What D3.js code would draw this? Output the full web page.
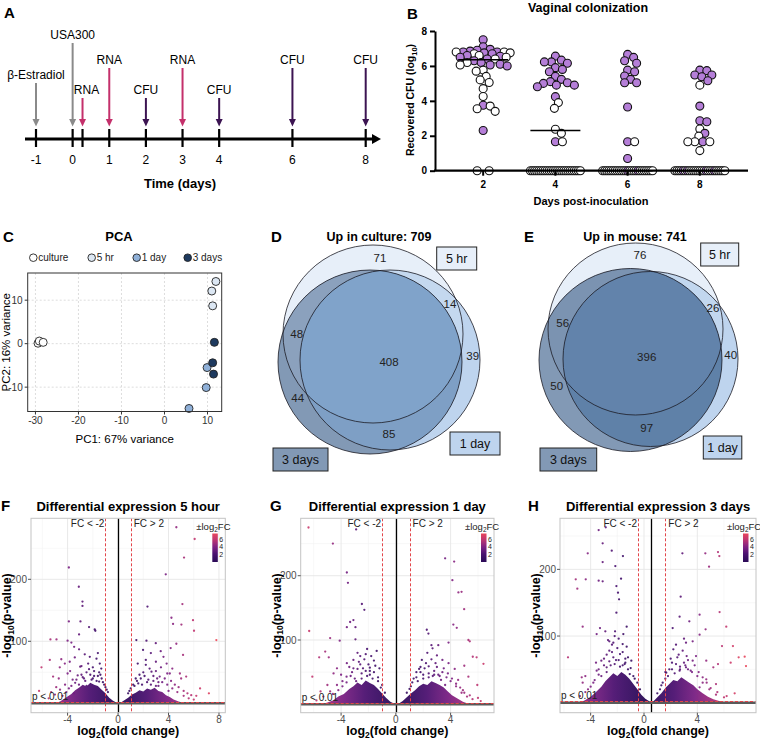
<!DOCTYPE html>
<html>
<head>
<meta charset="utf-8">
<script src="https://cdn.jsdelivr.net/npm/d3@7"></script>
<style>
  body { margin: 0; background: #fff; }
  svg { display: block; font-family: "Liberation Sans", Arial, sans-serif; }
</style>
</head>
<body>
<svg id="fig" width="760" height="740"></svg>
<script>
// ---------- A: timeline ----------
const timeTicks = [-1, 0, 1, 2, 3, 4, 6, 8];
const eventDays = [-1, 0, 0.27, 1, 2, 3, 4, 6, 8];
const eventLabels = ["β-Estradiol", "USA300", "RNA", "RNA", "CFU", "RNA", "CFU", "CFU", "CFU"];
const eventKinds = ["treat", "treat", "rna", "rna", "cfu", "rna", "cfu", "cfu", "cfu"];
const eventTiers = [1.5, 3, 1, 2, 1, 2, 1, 2, 2];

// ---------- B: vaginal colonization (log10 CFU) ----------
const colonDays = ["2", "4", "6", "8"];
const purple2 = [7.5, 7.1, 6.95, 6.9, 6.85, 6.8, 6.8, 6.75, 6.7, 6.6, 6.55, 6.5, 6.4, 6.3, 6.2, 6.1, 6.05, 6.0, 3.75, 2.3];
const white2 = [6.8, 6.8, 6.75, 6.7, 6.6, 6.5, 6.4, 6.2, 6.05, 5.76, 5.7, 5.4, 5.2, 5.05, 4.7, 4.25, 3.7, 3.55, 3.4];
const purple4 = [6.56, 6.33, 6.23, 6.23, 6.15, 5.9, 5.8, 5.67, 5.4, 5.23, 5.1, 5.04, 5.0, 4.9, 4.9, 4.81, 4.24, 1.66];
const white4 = [3.9, 3.57, 2.37, 2.14, 1.66];
const purple6 = [6.66, 6.49, 6.3, 6.15, 5.76, 5.67, 5.42, 5.23, 5.04, 5.04, 3.65, 1.66, 0.7];
const white6 = [1.66];
const purple8 = [5.76, 5.73, 5.48, 5.48, 5.38, 5.15, 3.7, 2.86, 2.8, 2.14, 1.66];
const white8 = [4.9, 2.39, 1.98, 1.66, 1.66, 1.66, 1.15];
// mice with no recovered CFU (0 = open circle, 1 = filled)
const zeroRow2 = [0, 0];
const zeroRow4 = [0, 0, 0, 0, 0, 0, 0, 0, 0, 0, 0, 0, 0, 0, 0, 0, 0, 0, 0, 0, 0, 0, 0, 0, 0];
const zeroRow6 = [0, 0, 0, 0, 0, 0, 0, 0, 0, 0, 0, 0, 1, 0, 0, 0, 0, 1, 0, 0, 0, 0, 0, 0, 0];
const zeroRow8 = [0, 0, 0, 0, 1, 0, 1, 0, 0, 0, 0, 0, 0, 0, 0, 1, 0, 0, 0, 1, 0, 0, 0, 0, 0];
const colonMedians = [6.35, 2.3, 0, 0];

// ---------- C: PCA ----------
const pcaGroups = ["culture", "5 hr", "1 day", "3 days"];
const pcaCulture = [[-29.4, 0.1], [-29.1, 0.6], [-28.2, 0.3]];
const pca5hr = [[11.95, 14.3], [11.0, 12.1], [11.2, 8.7]];
const pca1day = [[5.7, -14.9], [9.7, -10.1], [9.9, -5.5]];
const pca3day = [[11.6, 0.3], [11.2, -4.4], [11.4, -7.0]];

// ---------- D / E: Venn counts ----------
// region order: 5hr only, 5hr&1day, 1day only, 5hr&3days, all three, 1day&3days, 3days only
const vennCultureCounts = [71, 14, 39, 48, 408, 85, 44];
const vennMouseCounts = [76, 26, 40, 56, 396, 97, 50];
const vennCultureTotal = 709;
const vennMouseTotal = 741;

// ---------- F / G / H: volcano plots [log2FC, -log10 p] ----------
const volcano5h = [
  [-3.9,219],[-3.11,188],[-2.82,164],[-2.82,157],[-3.9,132],[-2.98,132],[-2.3,123],[-1.85,119],[-1.8,117],[-3.09,111],
  [-5.36,103],[-4.88,103],[-4.0,101],[-3.7,98],[-3.48,91],[-3.09,87],[-6.07,58],[-5.41,70],[-4.62,58],[-4.22,64],
  [-4.5,71],[-3.83,67],[-3.43,74],[-2.64,79],[-2.24,75],[-1.71,72],[-1.6,81],[-2.37,64],[-3.0,59],[-5.15,43],
  [-6.26,20],[-4.7,40],[-4.0,48],[-1.45,64],[-1.33,56],
  [-3.6,38],[-3.2,45],[-2.8,42],[-2.5,50],[-2.2,46],[-1.9,52],[-1.6,44],[-1.3,40],[-1.1,30],[-4.2,30],
  [-4.6,22],[-5,14],[-5.5,8],[-2.6,36],[-2.0,40],[-3.4,33],[-0.9,22],[-1.5,35],
  [-4.4,12],[-4.1,18],[-3.9,24],[-3.7,28],[-3.5,16],[-3.3,38],[-3.1,30],[-2.9,46],[-2.7,40],[-2.5,28],
  [-2.3,55],[-2.1,38],[-1.9,44],[-1.7,36],[-1.5,50],[-1.2,34],[-1.0,26],[-0.8,18],[-3.8,52],[-2.9,60],
  [-2.0,58],[-1.4,46],[-4.9,26],[-5.3,18],
  [4.62,284],[6.07,265],[5.23,235],[3.78,208],[2.33,156],[5.1,160],[4.23,138],[4.36,128],[5.02,127],[5.94,134],
  [6.02,117],[7.79,102],[1.45,102],[2.25,101],[2.99,97],[4.62,96],[3.38,84],[4.17,89],[5.15,78],[1.98,86],
  [2.6,81],[3.6,75],[3.85,64],[3.0,67],[2.2,70],[1.56,64],[4.3,56],[4.9,48],[5.4,43],[5.0,40],
  [4.1,48],[6.5,24],[7.2,16],[5.8,13],[3.3,43],[2.65,51],
  [1.2,30],[1.5,36],[1.8,40],[2.1,44],[2.4,38],[2.8,36],[3.1,40],[3.5,34],[3.9,30],[4.3,24],
  [4.7,18],[5.2,12],[5.6,8],[6.0,6],[0.9,20],[1.9,30],[2.6,30],[3.2,28],
  [0.8,16],[1.0,24],[1.3,28],[1.6,32],[1.7,46],[2.0,50],[2.3,34],[2.5,56],[2.8,44],[3.0,52],
  [3.2,34],[3.4,58],[3.7,40],[3.9,48],[4.2,36],[4.5,30],[4.8,26],[5.2,20],[5.5,16],[6.2,12],
  [2.2,62],[3.0,28],[4.0,20],[1.4,40]
];
const volcano1d = [
  [-6.38,275],[-2.9,272],[-4.6,250],[-3.58,205],[-3.5,189],[-2.48,156],[-2.3,147],[-6.33,114],[-3.34,128],[-3.1,131],
  [-3.58,120],[-4.8,103],[-4.1,99],[-2.95,101],[-2.95,120],[-5.16,82],[-4.9,73],[-5.6,73],[-4.3,56],[-4.55,48],
  [-3.58,64],[-3.1,69],[-2.6,75],[-2.1,86],[-1.8,75],[-1.4,83],[-2.4,56],[-1.9,57],[-3.6,43],[-6.1,43],
  [-3.2,50],[-2.8,55],[-2.5,48],[-2.2,52],[-1.9,46],[-1.6,50],[-1.3,42],[-1.0,30],[-3.9,36],[-4.3,30],
  [-4.8,20],[-5.3,12],[-5.8,6],[-3.0,40],[-2.0,62],[-2.6,62],[-1.2,56],
  [-4.6,16],[-4.2,22],[-3.9,28],[-3.6,34],[-3.3,44],[-3.1,56],[-2.9,36],[-2.7,66],[-2.5,40],[-2.3,70],
  [-2.1,44],[-1.9,52],[-1.7,40],[-1.5,60],[-1.3,36],[-1.1,26],[-0.8,18],[-3.4,58],[-2.2,78],[-4.0,46],
  [-5.0,30],[-5.5,20],[-1.6,68],[-2.8,80],
  [3.6,227],[4.26,222],[4.13,193],[4.57,174],[4.8,175],[4.99,148],[2.26,116],[2.38,110],[4.2,124],[4.45,119],
  [5.3,100],[5.4,98],[3.85,96],[3.1,92],[2.6,92],[2.68,87],[5.62,74],[5.9,73],[6.4,63],[5.95,30],
  [5.0,60],[4.3,55],[3.85,64],[3.4,69],[2.9,64],[2.4,59],[1.9,69],[1.7,55],[4.55,38],[5.3,43],[4.9,22],
  [1.2,34],[1.5,42],[1.8,50],[2.1,56],[2.4,48],[2.8,52],[3.1,46],[3.4,50],[3.7,42],[4.0,36],
  [4.4,28],[4.8,18],[5.2,12],[5.6,8],[6.2,5],[2.0,40],[2.7,44],[3.3,38],[1.0,24],
  [0.8,18],[1.1,28],[1.3,40],[1.6,36],[1.8,58],[2.0,46],[2.2,64],[2.4,42],[2.6,70],[2.8,46],
  [3.0,58],[3.2,44],[3.5,56],[3.8,48],[4.1,40],[4.4,32],[4.7,26],[5.0,18],[5.4,14],[6.0,10],
  [2.3,80],[3.0,76],[3.6,30],[1.5,50]
];
const volcano3d = [
  [-3.4,259],[-2.87,263],[-3.1,239],[-2.42,228],[-4.22,224],[-2.15,205],[-1.58,220],[-3.1,211],[-5.12,185],[-4.37,185],
  [-3.4,183],[-3.1,182],[-5.0,171],[-1.72,186],[-2.07,175],[-4.6,114],[-1.3,114],[-5.7,68],[-4.67,38],[-4.4,40],
  [-3.55,103],[-3.3,112],[-2.9,107],[-2.6,92],[-2.4,87],[-2.07,135],[-1.87,155],[-1.95,165],[-1.55,103],[-2.17,107],
  [-3.2,63],[-3.55,48],[-2.8,53],[-2.3,68],[-1.8,73],[-1.45,58],[-0.95,63],[-1.07,43],
  [-3.0,56],[-2.6,62],[-2.2,58],[-1.9,64],[-1.6,56],[-1.2,50],[-0.8,40],[-3.4,42],[-3.8,30],[-4.2,20],
  [-4.8,10],[-2.4,76],[-2.0,82],[-1.6,88],[-2.8,72],[-0.5,30],[-1.4,66],
  [-4.4,16],[-4.0,24],[-3.7,34],[-3.4,50],[-3.2,40],[-3.0,66],[-2.8,46],[-2.6,78],[-2.5,56],[-2.3,90],
  [-2.1,64],[-1.9,96],[-1.8,54],[-1.6,76],[-1.4,60],[-1.2,68],[-1.0,52],[-0.7,36],[-0.3,20],[-2.2,100],
  [-3.6,60],[-4.6,30],[-1.3,84],[-2.7,94],
  [2.88,224],[4.6,224],[5.55,226],[5.65,220],[4.88,204],[2.75,159],[2.67,129],[4.17,132],[5.67,136],[3.4,122],
  [4.62,110],[6.17,114],[5.85,85],[6.67,85],[7.55,69],[7.65,55],[7.1,68],[6.5,60],[5.2,53],[5.55,58],
  [4.67,63],[4.17,102],[3.65,92],[3.15,90],[2.4,87],[2.15,112],[3.65,63],[3.15,53],[4.67,35],[5.4,28],
  [4.17,23],[2.67,48],[1.67,45],
  [1.4,30],[1.8,40],[2.1,50],[2.4,58],[2.7,54],[3.0,60],[3.3,50],[3.6,46],[4.0,40],[4.4,30],
  [4.9,20],[5.4,12],[6.0,8],[2.0,66],[2.6,72],[3.2,70],[1.2,20],
  [1.0,14],[1.3,26],[1.6,36],[1.9,50],[2.1,60],[2.3,44],[2.5,68],[2.7,50],[2.9,78],[3.1,56],
  [3.3,64],[3.5,48],[3.8,56],[4.1,46],[4.4,38],[4.7,30],[5.0,22],[5.5,16],[6.2,10],[6.8,14],
  [2.2,80],[3.0,96],[3.9,70],[1.6,46]
];
// outline of the dense cloud of non-significant genes near the origin
const core5hLeft = [[-5,0],[-4.6,3],[-4.3,7],[-4,11],[-3.7,15],[-3.4,21],[-3.1,25],[-2.8,30],[-2.5,27],[-2.2,33],[-1.9,30],[-1.6,28],[-1.3,22],[-1.0,16],[-0.7,9],[-0.4,4],[-0.1,1],[0,0]];
const core5hRight = [[0,0],[0.2,1],[0.5,5],[0.8,9],[1.1,14],[1.4,17],[1.7,21],[2.0,19],[2.3,24],[2.6,22],[2.9,25],[3.2,20],[3.5,18],[3.8,13],[4.1,10],[4.4,6],[4.8,3],[5.3,0]];
const core1dLeft = [[-5.4,0],[-5,3],[-4.6,6],[-4.2,12],[-3.8,16],[-3.4,24],[-3.1,28],[-2.8,34],[-2.5,30],[-2.2,37],[-1.9,33],[-1.6,30],[-1.3,24],[-1.0,17],[-0.7,10],[-0.4,4],[-0.1,1],[0,0]];
const core1dRight = [[0,0],[0.2,1],[0.5,5],[0.8,11],[1.1,17],[1.4,22],[1.7,28],[2.0,32],[2.3,30],[2.6,36],[2.9,33],[3.2,30],[3.5,26],[3.8,20],[4.1,14],[4.5,9],[4.9,4],[5.4,0]];
const core3dLeft = [[-4.8,0],[-4.4,4],[-4,9],[-3.6,16],[-3.2,24],[-2.9,32],[-2.6,38],[-2.3,44],[-2.0,40],[-1.7,46],[-1.4,42],[-1.1,36],[-0.8,28],[-0.5,20],[-0.2,12],[0.1,6],[0.4,2],[0.55,0]];
const core3dRight = [[0.55,0],[0.75,3],[1.0,8],[1.3,14],[1.6,22],[1.9,28],[2.2,34],[2.5,32],[2.8,38],[3.1,34],[3.4,30],[3.7,26],[4.0,20],[4.4,14],[4.8,9],[5.2,5],[5.7,2],[6.2,0]];
const volcanoTitles = ["Differential expression 5 hour", "Differential expression 1 day", "Differential expression 3 days"];
const pThreshold = 2; // -log10(0.01)

// ======================================================
const svg = d3.select("#fig");
const defs = svg.append("defs");
const crisp = (v) => Math.round(v) + 0.5;

function letter(x, y, t) {
  svg.append("text").attr("x", x).attr("y", y).attr("font-size", 15).attr("font-weight", "bold").text(t);
}

// ---------- A ----------
function drawTimeline() {
  const x = d3.scaleLinear().domain([-1, 8]).range([36, 365.7]);
  const tierY = d3.scaleLinear().domain([1, 2, 3]).range([98, 68, 43]);
  const kindColor = { treat: "#8a8a8a", rna: "#c4306b", cfu: "#3c1452" };
  const axisY = 139;
  const g = svg.append("g");

  g.append("line").attr("x1", 25).attr("x2", 373).attr("y1", axisY).attr("y2", axisY)
    .attr("stroke", "#000").attr("stroke-width", 3);
  g.append("path").attr("d", `M372,${axisY - 5}L381,${axisY}L372,${axisY + 5}Z`).attr("fill", "#000");

  g.selectAll(".tk").data(eventDays).join("line")
    .attr("x1", (d) => x(d)).attr("x2", (d) => x(d)).attr("y1", axisY - 10).attr("y2", axisY + 8)
    .attr("stroke", "#000").attr("stroke-width", 2.2);
  g.selectAll(".tl").data(timeTicks).join("text")
    .attr("x", (d) => x(d)).attr("y", 164).attr("text-anchor", "middle").attr("font-size", 12)
    .text((d) => d);
  g.append("text").attr("x", 180).attr("y", 188).attr("text-anchor", "middle")
    .attr("font-size", 13).attr("font-weight", "bold").text("Time (days)");

  eventDays.forEach((d, i) => {
    const cx = x(d);
    const top = tierY(eventTiers[i]);
    const col = kindColor[eventKinds[i]];
    g.append("line").attr("x1", cx).attr("x2", cx).attr("y1", top).attr("y2", 120)
      .attr("stroke", col).attr("stroke-width", 2);
    g.append("path").attr("d", `M${cx - 3.5},119L${cx + 3.5},119L${cx},126.5Z`).attr("fill", col);
    g.append("text").attr("x", cx + (i === 2 ? 4 : 0)).attr("y", top - 4).attr("text-anchor", "middle")
      .attr("font-size", 12).text(eventLabels[i]);
  });
}

// ---------- B ----------
function drawColonization() {
  const x = d3.scalePoint().domain(colonDays).range([435, 748]).padding(0.667);
  const y = d3.scaleLinear().domain([0, 8]).range([170.7, 31]);
  const g = svg.append("g");
  const r = 4, minDist = 6.6, maxW = 27;

  const purpleSets = [purple2, purple4, purple6, purple8];
  const whiteSets = [white2, white4, white6, white8];
  const zeroRows = [zeroRow2, zeroRow4, zeroRow6, zeroRow8];

  colonDays.forEach((day, i) => {
    const cx = x(day);
    const pts = purpleSets[i].map((v) => ({ v, filled: true }))
      .concat(whiteSets[i].map((v) => ({ v, filled: false })))
      .sort((a, b) => b.v - a.v);
    const placed = [];
    pts.forEach((p) => {
      const py = y(p.v);
      let best = 0, bestD = -1;
      for (let k = 0; k <= 2 * maxW; k++) {
        const off = (k % 2 ? 1 : -1) * Math.ceil(k / 2);
        const dmin = placed.length ? d3.min(placed, (q) => Math.hypot(q.off - off, q.py - py)) : Infinity;
        if (dmin >= minDist) { best = off; bestD = dmin; break; }
        if (dmin > bestD) { bestD = dmin; best = off; }
      }
      placed.push({ off: best, py, filled: p.filled });
    });
    const zr = zeroRows[i];
    const half = Math.min(25, (zr.length - 1) * 6);
    zr.forEach((f, j) => {
      const off = zr.length > 1 ? -half + (2 * half * j) / (zr.length - 1) : 0;
      placed.push({ off, py: y(0), filled: f === 1 });
    });
    g.selectAll(null).data(placed).join("circle")
      .attr("cx", (d) => cx + d.off).attr("cy", (d) => d.py).attr("r", r)
      .attr("fill", (d) => (d.filled ? "#b57ed8" : "#fff"))
      .attr("stroke", "#111").attr("stroke-width", 1.1);
    g.append("line").attr("x1", cx - 25).attr("x2", cx + 25)
      .attr("y1", y(colonMedians[i])).attr("y2", y(colonMedians[i]))
      .attr("stroke", "#000").attr("stroke-width", 1.6);
  });

  const yAxis = g.append("g").attr("transform", "translate(435,0)")
    .call(d3.axisLeft(y).ticks(4).tickSize(5).tickSizeOuter(0));
  yAxis.selectAll("path,line").attr("stroke", "#000").attr("stroke-width", 2);
  yAxis.selectAll("text").attr("font-size", 10).attr("font-weight", "bold").attr("fill", "#000")
    .attr("font-family", '"Liberation Sans", Arial, sans-serif');

  g.append("line").attr("x1", 434).attr("x2", 748).attr("y1", y(0)).attr("y2", y(0))
    .attr("stroke", "#000").attr("stroke-width", 2.2);
  g.selectAll(".xt").data(colonDays).join("line")
    .attr("x1", (d) => x(d)).attr("x2", (d) => x(d)).attr("y1", y(0)).attr("y2", y(0) + 5)
    .attr("stroke", "#000").attr("stroke-width", 2);
  g.selectAll(".xl").data(colonDays).join("text")
    .attr("x", (d) => x(d)).attr("y", 188).attr("text-anchor", "middle")
    .attr("font-size", 10).attr("font-weight", "bold").text((d) => d);

  g.append("text").attr("x", 591).attr("y", 205).attr("text-anchor", "middle")
    .attr("font-size", 11).attr("font-weight", "bold").text("Days post-inoculation");
  const yl = g.append("text").attr("transform", "translate(414,100) rotate(-90)")
    .attr("text-anchor", "middle").attr("font-size", 10.5).attr("font-weight", "bold");
  yl.append("tspan").text("Recovered CFU (log");
  yl.append("tspan").attr("font-size", 7.5).attr("dy", 2.5).text("10");
  yl.append("tspan").attr("dy", -2.5).text(")");
  g.append("text").attr("x", 588).attr("y", 12).attr("text-anchor", "middle")
    .attr("font-size", 12.5).attr("font-weight", "bold").text("Vaginal colonization");
}

// ---------- C ----------
function drawPCA() {
  const left = 27.7, right = 221.7, top = 273, bottom = 411.5;
  const x = d3.scaleLinear().domain([-31.8, 13.3]).range([left, right]);
  const y = d3.scaleLinear().domain([-15.6, 16.25]).range([bottom, top]);
  const g = svg.append("g");
  const colors = ["#ffffff", "#dce7f3", "#8fb0d8", "#1e3a5f"];
  const xt = [-30, -20, -10, 0, 10], yt = [-10, 0, 10];

  g.selectAll(".gx").data(xt).join("line")
    .attr("x1", (d) => x(d)).attr("x2", (d) => x(d)).attr("y1", top).attr("y2", bottom)
    .attr("stroke", "#d4d4d4").attr("stroke-dasharray", "2,2").attr("stroke-width", 0.8);
  g.selectAll(".gy").data(yt).join("line")
    .attr("x1", left).attr("x2", right).attr("y1", (d) => y(d)).attr("y2", (d) => y(d))
    .attr("stroke", "#d4d4d4").attr("stroke-dasharray", "2,2").attr("stroke-width", 0.8);

  [pcaCulture, pca5hr, pca1day, pca3day].forEach((set, i) => {
    g.selectAll(null).data(set).join("circle")
      .attr("cx", (d) => x(d[0])).attr("cy", (d) => y(d[1])).attr("r", 4)
      .attr("fill", colors[i]).attr("stroke", "#222").attr("stroke-width", 0.9);
  });

  g.append("rect").attr("x", left).attr("y", top).attr("width", right - left).attr("height", bottom - top)
    .attr("fill", "none").attr("stroke", "#333").attr("stroke-width", 1);

  g.selectAll(".xtk").data(xt).join("line")
    .attr("x1", (d) => x(d)).attr("x2", (d) => x(d)).attr("y1", bottom).attr("y2", bottom + 3).attr("stroke", "#333");
  g.selectAll(".ytk").data(yt).join("line")
    .attr("x1", left - 3).attr("x2", left).attr("y1", (d) => y(d)).attr("y2", (d) => y(d)).attr("stroke", "#333");
  g.selectAll(".xtl").data(xt).join("text")
    .attr("x", (d) => x(d)).attr("y", bottom + 12).attr("text-anchor", "middle")
    .attr("font-size", 10).attr("fill", "#333").text((d) => d);
  g.selectAll(".ytl").data(yt).join("text")
    .attr("x", left - 5).attr("y", (d) => y(d)).attr("dy", "0.35em").attr("text-anchor", "end")
    .attr("font-size", 10).attr("fill", "#333").text((d) => d);

  g.append("text").attr("x", (left + right) / 2).attr("y", 443).attr("text-anchor", "middle")
    .attr("font-size", 11.5).text("PC1: 67% variance");
  g.append("text").attr("transform", `translate(10,${(top + bottom) / 2}) rotate(-90)`)
    .attr("text-anchor", "middle").attr("font-size", 11.5).text("PC2: 16% variance");
  g.append("text").attr("x", 119).attr("y", 241).attr("text-anchor", "middle")
    .attr("font-size", 13).attr("font-weight", "bold").text("PCA");

  const legX = [33.3, 91.7, 136.7, 187.7];
  pcaGroups.forEach((name, i) => {
    g.append("circle").attr("cx", legX[i]).attr("cy", 257.7).attr("r", 3.8)
      .attr("fill", colors[i]).attr("stroke", "#222").attr("stroke-width", 0.9);
    g.append("text").attr("x", legX[i] + 5).attr("y", 261).attr("font-size", 10).attr("fill", "#222").text(name);
  });
}

// ---------- D / E ----------
function drawVenn(o) {
  const g = svg.append("g");
  const ell = (sel, c) => sel.attr("cx", c.cx).attr("cy", c.cy).attr("rx", c.rx).attr("ry", c.ry);
  ["c5", "c1", "c3"].forEach((k) => {
    ell(defs.append("clipPath").attr("id", o.key + k).append("ellipse"), o[k]);
  });
  const col = o.colors;
  ell(g.append("ellipse"), o.c5).attr("fill", col.c5);
  ell(g.append("ellipse"), o.c1).attr("fill", col.c1);
  ell(g.append("ellipse").attr("clip-path", `url(#${o.key}c5)`), o.c1).attr("fill", col.c51);
  ell(g.append("ellipse"), o.c3).attr("fill", col.c3);
  ell(g.append("ellipse").attr("clip-path", `url(#${o.key}c5)`), o.c3).attr("fill", col.c53);
  ell(g.append("ellipse").attr("clip-path", `url(#${o.key}c3)`), o.c1).attr("fill", col.c13);
  ell(g.append("g").attr("clip-path", `url(#${o.key}c5)`).append("ellipse").attr("clip-path", `url(#${o.key}c3)`), o.c1)
    .attr("fill", col.c135);
  ["c5", "c3", "c1"].forEach((k) => {
    ell(g.append("ellipse"), o[k]).attr("fill", "none").attr("stroke", "#1c1c24").attr("stroke-width", 0.8);
  });

  g.selectAll(".cnt").data(o.counts).join("text")
    .attr("x", (d, i) => o.labelPos[i][0]).attr("y", (d, i) => o.labelPos[i][1])
    .attr("dy", "0.35em").attr("text-anchor", "middle").attr("font-size", 11.5).attr("fill", "#222")
    .text((d) => d);

  o.boxes.forEach((b) => {
    g.append("rect").attr("x", b.x).attr("y", b.y).attr("width", b.w).attr("height", 23)
      .attr("fill", b.fill).attr("stroke", "#222").attr("stroke-width", 1);
    g.append("text").attr("x", b.x + b.w / 2).attr("y", b.y + 16).attr("text-anchor", "middle")
      .attr("font-size", 12.5).attr("fill", "#111").text(b.text);
  });
  g.append("text").attr("x", o.titleX).attr("y", 241).attr("text-anchor", "middle")
    .attr("font-size", 12.5).attr("font-weight", "bold").text(o.title);
}

// ---------- F / G / H ----------
const fcColor = d3.scaleLinear().domain([0, 2, 4, 6, 7.6])
  .range(["#2a0a55", "#45106e", "#7e2184", "#c03671", "#e8455b"]);

function drawVolcano(o) {
  const x = d3.scaleLinear().domain(o.xDomain).range([o.left, o.right]);
  const y = d3.scaleLinear().domain(o.yDomain).range([o.bottom, o.top]);
  const g = svg.append("g");
  const clipId = "clip-" + o.key;
  defs.append("clipPath").attr("id", clipId).append("rect")
    .attr("x", o.left).attr("y", o.top).attr("width", o.right - o.left).attr("height", o.bottom - o.top);

  const grad = defs.append("linearGradient").attr("id", "grad-" + o.key).attr("gradientUnits", "userSpaceOnUse")
    .attr("x1", x(-7.6)).attr("x2", x(7.6)).attr("y1", 0).attr("y2", 0);
  d3.range(0, 1.0001, 0.05).forEach((t) => {
    grad.append("stop").attr("offset", t).attr("stop-color", fcColor(Math.abs(-7.6 + 15.2 * t)));
  });

  const inner = g.append("g").attr("clip-path", `url(#${clipId})`);
  inner.selectAll(".mgx").data(o.minorX).join("line")
    .attr("x1", (d) => x(d)).attr("x2", (d) => x(d)).attr("y1", o.top).attr("y2", o.bottom)
    .attr("stroke", "#f3f3f3").attr("stroke-width", 0.6);
  inner.selectAll(".mgy").data([50, 150, 250]).join("line")
    .attr("x1", o.left).attr("x2", o.right).attr("y1", (d) => y(d)).attr("y2", (d) => y(d))
    .attr("stroke", "#f3f3f3").attr("stroke-width", 0.6);
  inner.selectAll(".gx").data(o.xTicks).join("line")
    .attr("x1", (d) => x(d)).attr("x2", (d) => x(d)).attr("y1", o.top).attr("y2", o.bottom)
    .attr("stroke", "#e6e6e6").attr("stroke-width", 0.9);
  inner.selectAll(".gy").data([0, 100, 200]).join("line")
    .attr("x1", o.left).attr("x2", o.right).attr("y1", (d) => y(d)).attr("y2", (d) => y(d))
    .attr("stroke", "#e6e6e6").attr("stroke-width", 0.9);

  const area = d3.area().x((d) => x(d[0])).y0(y(0)).y1((d) => y(d[1]));
  o.cores.forEach((c) => {
    inner.append("path").datum(c).attr("d", area).attr("fill", `url(#grad-${o.key})`).attr("opacity", 0.95);
  });
  inner.selectAll(".pt").data(o.points).join("circle")
    .attr("cx", (d) => x(d[0])).attr("cy", (d) => y(d[1])).attr("r", 1.15)
    .attr("fill", (d) => fcColor(Math.abs(d[0]))).attr("opacity", 0.9);

  inner.append("line").attr("x1", crisp(x(o.center))).attr("x2", crisp(x(o.center))).attr("y1", o.top).attr("y2", o.bottom)
    .attr("stroke", "#000").attr("stroke-width", 1.3);
  o.fcLines.forEach((v) => {
    inner.append("line").attr("x1", crisp(x(v))).attr("x2", crisp(x(v))).attr("y1", o.top).attr("y2", o.bottom)
      .attr("stroke", "#e3454a").attr("stroke-width", 1).attr("stroke-dasharray", "3,2");
  });
  inner.append("line").attr("x1", o.left).attr("x2", o.right).attr("y1", y(0)).attr("y2", y(0))
    .attr("stroke", "#5a5a5a").attr("stroke-width", 2.5);
  inner.append("line").attr("x1", o.left).attr("x2", o.right).attr("y1", crisp(y(pThreshold))).attr("y2", crisp(y(pThreshold)))
    .attr("stroke", "#e3454a").attr("stroke-width", 1).attr("stroke-dasharray", "3,2");

  g.append("rect").attr("x", o.left).attr("y", o.top).attr("width", o.right - o.left).attr("height", o.bottom - o.top)
    .attr("fill", "none").attr("stroke", "#c4c4c4").attr("stroke-width", 1);

  g.selectAll(".xtk").data(o.xTicks).join("line")
    .attr("x1", (d) => x(d)).attr("x2", (d) => x(d)).attr("y1", o.bottom).attr("y2", o.bottom + 3).attr("stroke", "#555");
  g.selectAll(".xtl").data(o.xTicks).join("text")
    .attr("x", (d) => x(d)).attr("y", o.bottom + 10.5).attr("text-anchor", "middle")
    .attr("font-size", 10).attr("fill", "#4d4d4d").text((d) => d);
  g.selectAll(".ytk").data([100, 200]).join("line")
    .attr("x1", o.left - 3).attr("x2", o.left).attr("y1", (d) => y(d)).attr("y2", (d) => y(d)).attr("stroke", "#555");
  g.selectAll(".ytl").data([100, 200]).join("text")
    .attr("x", o.left - 4).attr("y", (d) => y(d)).attr("dy", "0.35em").attr("text-anchor", "end")
    .attr("font-size", 10).attr("fill", "#4d4d4d").text((d) => d);

  g.append("text").attr("x", x(o.fcLines[0]) - 1).attr("y", o.top + 9).attr("text-anchor", "end")
    .attr("font-size", 10).attr("fill", "#222").text("FC < -2");
  g.append("text").attr("x", x(o.fcLines[1]) + 3).attr("y", o.top + 9)
    .attr("font-size", 10).attr("fill", "#222").text("FC > 2");
  g.append("text").attr("x", o.left + 1).attr("y", y(pThreshold) - 2.5)
    .attr("font-size", 10).attr("fill", "#222").text("p < 0.01");

  // colour legend
  const lg = defs.append("linearGradient").attr("id", "leg-" + o.key).attr("x1", 0).attr("x2", 0).attr("y1", 1).attr("y2", 0);
  d3.range(0, 1.0001, 0.1).forEach((t) => lg.append("stop").attr("offset", t).attr("stop-color", fcColor(7.6 * t)));
  const ly = d3.scaleLinear().domain([0, 7.6]).range([562, 533.5]);
  const lx = o.right - 13;
  g.append("rect").attr("x", lx).attr("y", ly(7.6)).attr("width", 5.5).attr("height", ly(0) - ly(7.6))
    .attr("fill", `url(#leg-${o.key})`);
  g.selectAll(".lt").data([2, 4, 6]).join("text")
    .attr("x", lx + 7).attr("y", (d) => ly(d)).attr("dy", "0.35em").attr("font-size", 7).attr("fill", "#222")
    .text((d) => d);
  const lt = g.append("text").attr("x", o.right - 29).attr("y", 530).attr("font-size", 9.5).attr("fill", "#222");
  lt.append("tspan").text("±log");
  lt.append("tspan").attr("font-size", 6.5).attr("dy", 2).text("2");
  lt.append("tspan").attr("dy", -2).text("FC");

  const cx = (o.left + o.right) / 2;
  g.append("text").attr("x", cx).attr("y", 511).attr("text-anchor", "middle")
    .attr("font-size", 13).attr("font-weight", "bold").text(o.title);
  const xl = g.append("text").attr("x", cx).attr("y", 735).attr("text-anchor", "middle")
    .attr("font-size", 12.5).attr("font-weight", "bold");
  xl.append("tspan").text("log");
  xl.append("tspan").attr("font-size", 8.5).attr("dy", 2.5).text("2");
  xl.append("tspan").attr("dy", -2.5).text("(fold change)");
  const yl = g.append("text").attr("transform", `translate(${o.left - 20},${(o.top + o.bottom) / 2}) rotate(-90)`)
    .attr("text-anchor", "middle").attr("font-size", 12.5).attr("font-weight", "bold");
  yl.append("tspan").text("-log");
  yl.append("tspan").attr("font-size", 8.5).attr("dy", 2.5).text("10");
  yl.append("tspan").attr("dy", -2.5).text("(p-value)");
}

// ---------- render ----------
letter(4, 18, "A");
drawTimeline();
letter(407, 19, "B");
drawColonization();
letter(3, 242, "C");
drawPCA();

letter(271, 242, "D");
drawVenn({
  key: "vd", title: `Up in culture: ${vennCultureTotal}`, titleX: 379, counts: vennCultureCounts,
  c5: { cx: 373, cy: 334, rx: 90, ry: 89 }, c1: { cx: 390, cy: 360, rx: 90, ry: 90 }, c3: { cx: 370, cy: 362, rx: 92, ry: 92 },
  colors: { c5: "#e7eff9", c1: "#bed4ee", c51: "#c4d8ef", c3: "#8299b5", c53: "#8ba1bd", c13: "#7e9fc5", c135: "#80a3ca" },
  labelPos: [[380, 258], [450, 304], [472.7, 356], [296.7, 334], [389, 362], [389, 434], [297.7, 398]],
  boxes: [
    { x: 436.7, y: 247, w: 40, text: "5 hr", fill: "#e7eff9" },
    { x: 450, y: 432, w: 50, text: "1 day", fill: "#bed4ee" },
    { x: 273, y: 448, w: 55, text: "3 days", fill: "#8299b5" }
  ]
});

letter(524, 242, "E");
drawVenn({
  key: "ve", title: `Up in mouse: ${vennMouseTotal}`, titleX: 635, counts: vennMouseCounts,
  c5: { cx: 635.5, cy: 329, rx: 87.5, ry: 86 }, c1: { cx: 650.5, cy: 359, rx: 87.5, ry: 87.5 }, c3: { cx: 630.5, cy: 360, rx: 91.5, ry: 91.5 },
  colors: { c5: "#e7eff9", c1: "#bed4ee", c51: "#c2d7ef", c3: "#8299b5", c53: "#7b93b1", c13: "#5f81a8", c135: "#6283ab" },
  labelPos: [[640, 255], [713, 308], [730.7, 355], [562.7, 323], [646.7, 357], [646.7, 428], [556.7, 386]],
  boxes: [
    { x: 700.7, y: 243, w: 38, text: "5 hr", fill: "#e7eff9" },
    { x: 703.3, y: 436, w: 38.5, text: "1 day", fill: "#bed4ee" },
    { x: 540, y: 448, w: 56.7, text: "3 days", fill: "#8299b5" }
  ]
});

letter(1, 511, "F");
drawVolcano({
  key: "f", title: volcanoTitles[0], points: volcano5h, cores: [core5hLeft, core5hRight],
  left: 31, right: 225.3, top: 518.3, bottom: 712.7, xDomain: [-6.9, 8.5], yDomain: [-15.2, 298.4],
  xTicks: [-4, 0, 4, 8], minorX: [-6, -2, 2, 6], center: 0, fcLines: [-1, 1]
});
letter(270, 511, "G");
drawVolcano({
  key: "g", title: volcanoTitles[1], points: volcano1d, cores: [core1dLeft, core1dRight],
  left: 300.7, right: 494, top: 518.3, bottom: 712.7, xDomain: [-6.95, 7.17], yDomain: [-13.05, 289.3],
  xTicks: [-4, 0, 4], minorX: [-6, -2, 2, 6], center: 0, fcLines: [-1, 1]
});
letter(528, 511, "H");
drawVolcano({
  key: "h", title: volcanoTitles[2], points: volcano3d, cores: [core3dLeft, core3dRight],
  left: 560, right: 756, top: 518.3, bottom: 712.7, xDomain: [-6.3, 8.4], yDomain: [-15, 276.6],
  xTicks: [-4, 0, 4], minorX: [-6, -2, 2, 6], center: 0.55, fcLines: [-0.45, 1.6]
});
</script>
</body>
</html>
